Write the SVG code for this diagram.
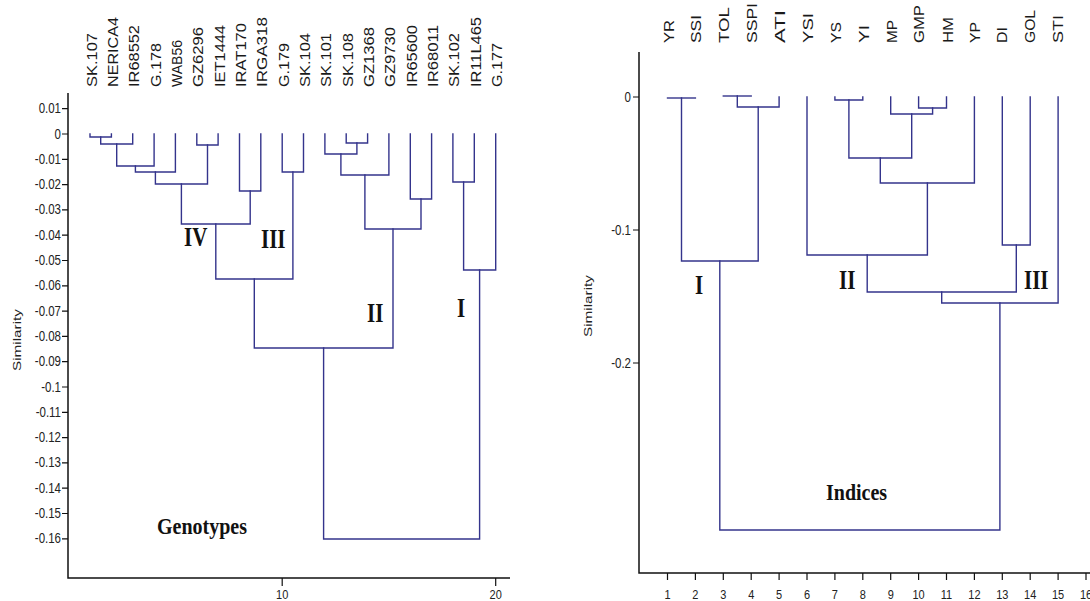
<svg xmlns="http://www.w3.org/2000/svg" width="1090" height="601" viewBox="0 0 1090 601">
<style>
.bg{fill:#fff}
.ax{stroke:#111;stroke-width:1.5;fill:none}
.tk{stroke:#111;stroke-width:1.2;fill:none}
.den{stroke:#34348c;stroke-width:1.4;fill:none;stroke-linecap:square}
.lab{font-family:"Liberation Sans",Arial,sans-serif;font-size:14px;fill:#1a1a1a}
.yl{font-family:"Liberation Sans",Arial,sans-serif;font-size:11.5px;fill:#222;text-anchor:end}
.xl{font-family:"Liberation Sans",Arial,sans-serif;font-size:11px;fill:#222;text-anchor:middle}
.sim{font-family:"Liberation Sans",Arial,sans-serif;font-size:11px;fill:#222;text-anchor:middle}
.rom{font-family:"Liberation Serif","Times New Roman",serif;font-size:21px;font-weight:bold;fill:#111}
.ttl{font-family:"Liberation Serif","Times New Roman",serif;font-size:20px;font-weight:bold;fill:#111}
</style>
<rect class="bg" x="0" y="0" width="1090" height="601"/>

<!-- LEFT CHART: axes -->
<g id="left-axes">
<path class="ax" d="M68 93 V578 H510"/>
<path class="tk" d="M62 108.7 H68 M62 134 H68 M62 159.3 H68 M62 184.6 H68 M62 209.9 H68 M62 235.2 H68 M62 260.5 H68 M62 285.8 H68 M62 311.1 H68 M62 336.4 H68 M62 361.7 H68 M62 387 H68 M62 412.3 H68 M62 437.6 H68 M62 462.9 H68 M62 488.2 H68 M62 513.5 H68 M62 538.8 H68"/>
<path class="tk" d="M282.2 578 V586 M495.7 578 V586"/>
<text class="yl" transform="translate(61,113.2) scale(1,1.25)">0.01</text>
<text class="yl" transform="translate(61,138.5) scale(1,1.25)">0</text>
<text class="yl" transform="translate(61,163.8) scale(1,1.25)">-0.01</text>
<text class="yl" transform="translate(61,189.1) scale(1,1.25)">-0.02</text>
<text class="yl" transform="translate(61,214.4) scale(1,1.25)">-0.03</text>
<text class="yl" transform="translate(61,239.7) scale(1,1.25)">-0.04</text>
<text class="yl" transform="translate(61,265) scale(1,1.25)">-0.05</text>
<text class="yl" transform="translate(61,290.3) scale(1,1.25)">-0.06</text>
<text class="yl" transform="translate(61,315.6) scale(1,1.25)">-0.07</text>
<text class="yl" transform="translate(61,340.9) scale(1,1.25)">-0.08</text>
<text class="yl" transform="translate(61,366.2) scale(1,1.25)">-0.09</text>
<text class="yl" transform="translate(61,391.5) scale(1,1.25)">-0.1</text>
<text class="yl" transform="translate(61,416.8) scale(1,1.25)">-0.11</text>
<text class="yl" transform="translate(61,442.1) scale(1,1.25)">-0.12</text>
<text class="yl" transform="translate(61,467.4) scale(1,1.25)">-0.13</text>
<text class="yl" transform="translate(61,492.7) scale(1,1.25)">-0.14</text>
<text class="yl" transform="translate(61,518) scale(1,1.25)">-0.15</text>
<text class="yl" transform="translate(61,543.3) scale(1,1.25)">-0.16</text>
<text class="xl" transform="translate(282.2,599) scale(1,1.2)">10</text>
<text class="xl" transform="translate(495.7,599) scale(1,1.2)">20</text>
<text class="sim" transform="translate(21,340) rotate(-90)" textLength="62" lengthAdjust="spacingAndGlyphs">Similarity</text>
</g>

<!-- LEFT CHART: leaf labels -->
<g id="g-SK107"><text class="lab" transform="translate(96.5,87) rotate(-90)" textLength="54" lengthAdjust="spacingAndGlyphs">SK.107</text></g>
<g id="g-NERICA4"><text class="lab" transform="translate(117.9,87) rotate(-90)" textLength="70" lengthAdjust="spacingAndGlyphs">NERICA4</text></g>
<g id="g-IR68552"><text class="lab" transform="translate(139.2,87) rotate(-90)" textLength="62" lengthAdjust="spacingAndGlyphs">IR68552</text></g>
<g id="g-G178"><text class="lab" transform="translate(160.6,87) rotate(-90)" textLength="44" lengthAdjust="spacingAndGlyphs">G.178</text></g>
<g id="g-WAB56"><text class="lab" transform="translate(181.9,87) rotate(-90)" textLength="47" lengthAdjust="spacingAndGlyphs">WAB56</text></g>
<g id="g-GZ6296"><text class="lab" transform="translate(203.3,87) rotate(-90)" textLength="60" lengthAdjust="spacingAndGlyphs">GZ6296</text></g>
<g id="g-IET1444"><text class="lab" transform="translate(224.6,87) rotate(-90)" textLength="62" lengthAdjust="spacingAndGlyphs">IET1444</text></g>
<g id="g-IRAT170"><text class="lab" transform="translate(246,87) rotate(-90)" textLength="64" lengthAdjust="spacingAndGlyphs">IRAT170</text></g>
<g id="g-IRGA318"><text class="lab" transform="translate(267.3,87) rotate(-90)" textLength="70" lengthAdjust="spacingAndGlyphs">IRGA318</text></g>
<g id="g-G179"><text class="lab" transform="translate(288.7,87) rotate(-90)" textLength="44" lengthAdjust="spacingAndGlyphs">G.179</text></g>
<g id="g-SK104"><text class="lab" transform="translate(310,87) rotate(-90)" textLength="54" lengthAdjust="spacingAndGlyphs">SK.104</text></g>
<g id="g-SK101"><text class="lab" transform="translate(331.4,87) rotate(-90)" textLength="54" lengthAdjust="spacingAndGlyphs">SK.101</text></g>
<g id="g-SK108"><text class="lab" transform="translate(352.7,87) rotate(-90)" textLength="54" lengthAdjust="spacingAndGlyphs">SK.108</text></g>
<g id="g-GZ1368"><text class="lab" transform="translate(374.1,87) rotate(-90)" textLength="60" lengthAdjust="spacingAndGlyphs">GZ1368</text></g>
<g id="g-GZ9730"><text class="lab" transform="translate(395.4,87) rotate(-90)" textLength="60" lengthAdjust="spacingAndGlyphs">GZ9730</text></g>
<g id="g-IR65600"><text class="lab" transform="translate(416.8,87) rotate(-90)" textLength="62" lengthAdjust="spacingAndGlyphs">IR65600</text></g>
<g id="g-IR68011"><text class="lab" transform="translate(438.1,87) rotate(-90)" textLength="62" lengthAdjust="spacingAndGlyphs">IR68011</text></g>
<g id="g-SK102"><text class="lab" transform="translate(459.4,87) rotate(-90)" textLength="54" lengthAdjust="spacingAndGlyphs">SK.102</text></g>
<g id="g-IR11L465"><text class="lab" transform="translate(480.8,87) rotate(-90)" textLength="70" lengthAdjust="spacingAndGlyphs">IR11L465</text></g>
<g id="g-G177"><text class="lab" transform="translate(502.2,87) rotate(-90)" textLength="44" lengthAdjust="spacingAndGlyphs">G.177</text></g>

<!-- LEFT CHART: connectors -->
<g id="left-connectors" class="den">
<path d="M90 134 V137 H111.4 V134"/>
<path d="M100.7 137 V144 H132.7 V134"/>
<path d="M116.7 144 V166 H154.1 V134"/>
<path d="M135.4 166 V172 H175.4 V134"/>
<path d="M196.8 134 V145 H218.1 V134"/>
<path d="M155.4 172 V184 H207.5 V145"/>
<path d="M239.5 134 V191 H260.8 V134"/>
<path d="M181.4 184 V224 H250.2 V191"/>
<path d="M282.2 134 V172 H303.5 V134"/>
<path d="M215.8 224 V279 H292.9 V172"/>
<path d="M346.2 134 V143 H367.6 V134"/>
<path d="M324.9 134 V154 H356.9 V143"/>
<path d="M340.9 154 V175 H388.9 V134"/>
<path d="M410.3 134 V199 H431.6 V134"/>
<path d="M364.9 175 V229 H421 V199"/>
<path d="M254.3 279 V348 H393 V229"/>
<path d="M452.9 134 V182 H474.3 V134"/>
<path d="M463.6 182 V270 H495.7 V134"/>
<path d="M323.6 348 V539 H479.6 V270"/>
</g>

<g id="left-cluster-labels">
<text class="rom" transform="translate(184,246) scale(1,1.25)">IV</text>
<text class="rom" transform="translate(261,248) scale(1,1.25)">III</text>
<text class="rom" transform="translate(367,322) scale(1,1.25)">II</text>
<text class="rom" transform="translate(457,317) scale(1,1.25)">I</text>
<text class="ttl" transform="translate(157,534) scale(1,1.2)">Genotypes</text>
</g>

<!-- RIGHT CHART: axes -->
<g id="right-axes">
<path class="ax" d="M639 52 V573 H1090"/>
<path class="tk" d="M633 97 H639 M633 230 H639 M633 363 H639"/>
<path class="tk" d="M667.5 573 V580 M695.4 573 V580 M723.3 573 V580 M751.2 573 V580 M779.1 573 V580 M807 573 V580 M834.9 573 V580 M862.8 573 V580 M890.7 573 V580 M918.6 573 V580 M946.5 573 V580 M974.4 573 V580 M1002.3 573 V580 M1030.2 573 V580 M1058.1 573 V580 M1086 573 V580"/>
<text class="yl" transform="translate(631,101.5) scale(1,1.25)">0</text>
<text class="yl" transform="translate(631,234.5) scale(1,1.25)">-0.1</text>
<text class="yl" transform="translate(631,367.5) scale(1,1.25)">-0.2</text>
<text class="xl" transform="translate(667.5,599) scale(1,1.2)">1</text>
<text class="xl" transform="translate(695.4,599) scale(1,1.2)">2</text>
<text class="xl" transform="translate(723.3,599) scale(1,1.2)">3</text>
<text class="xl" transform="translate(751.2,599) scale(1,1.2)">4</text>
<text class="xl" transform="translate(779.1,599) scale(1,1.2)">5</text>
<text class="xl" transform="translate(807,599) scale(1,1.2)">6</text>
<text class="xl" transform="translate(834.9,599) scale(1,1.2)">7</text>
<text class="xl" transform="translate(862.8,599) scale(1,1.2)">8</text>
<text class="xl" transform="translate(890.7,599) scale(1,1.2)">9</text>
<text class="xl" transform="translate(918.6,599) scale(1,1.2)">10</text>
<text class="xl" transform="translate(946.5,599) scale(1,1.2)">11</text>
<text class="xl" transform="translate(974.4,599) scale(1,1.2)">12</text>
<text class="xl" transform="translate(1002.3,599) scale(1,1.2)">13</text>
<text class="xl" transform="translate(1030.2,599) scale(1,1.2)">14</text>
<text class="xl" transform="translate(1058.1,599) scale(1,1.2)">15</text>
<text class="xl" transform="translate(1086,599) scale(1,1.2)">16</text>
<text class="sim" transform="translate(592,306) rotate(-90)" textLength="62" lengthAdjust="spacingAndGlyphs">Similarity</text>
</g>

<!-- RIGHT CHART: leaf labels -->
<g id="i-YR"><text class="lab" transform="translate(673.5,43) rotate(-90)" textLength="23" lengthAdjust="spacingAndGlyphs">YR</text></g>
<g id="i-SSI"><text class="lab" transform="translate(701.4,43) rotate(-90)" textLength="28" lengthAdjust="spacingAndGlyphs">SSI</text></g>
<g id="i-TOL"><text class="lab" transform="translate(729.3,43) rotate(-90)" textLength="36" lengthAdjust="spacingAndGlyphs">TOL</text></g>
<g id="i-SSPI"><text class="lab" transform="translate(757.2,43) rotate(-90)" textLength="40" lengthAdjust="spacingAndGlyphs">SSPI</text></g>
<g id="i-ATI"><text class="lab" transform="translate(785.1,43) rotate(-90)" textLength="33" lengthAdjust="spacingAndGlyphs">ATI</text></g>
<g id="i-YSI"><text class="lab" transform="translate(813,43) rotate(-90)" textLength="30" lengthAdjust="spacingAndGlyphs">YSI</text></g>
<g id="i-YS"><text class="lab" transform="translate(840.9,43) rotate(-90)" textLength="21" lengthAdjust="spacingAndGlyphs">YS</text></g>
<g id="i-YI"><text class="lab" transform="translate(868.8,43) rotate(-90)" textLength="18" lengthAdjust="spacingAndGlyphs">YI</text></g>
<g id="i-MP"><text class="lab" transform="translate(896.7,43) rotate(-90)" textLength="23" lengthAdjust="spacingAndGlyphs">MP</text></g>
<g id="i-GMP"><text class="lab" transform="translate(924.1,43) rotate(-90)" textLength="38" lengthAdjust="spacingAndGlyphs">GMP</text></g>
<g id="i-HM"><text class="lab" transform="translate(952.5,43) rotate(-90)" textLength="26" lengthAdjust="spacingAndGlyphs">HM</text></g>
<g id="i-YP"><text class="lab" transform="translate(980.4,43) rotate(-90)" textLength="21" lengthAdjust="spacingAndGlyphs">YP</text></g>
<g id="i-DI"><text class="lab" transform="translate(1007.3,43) rotate(-90)" textLength="16" lengthAdjust="spacingAndGlyphs">DI</text></g>
<g id="i-GOL"><text class="lab" transform="translate(1035.2,43) rotate(-90)" textLength="33" lengthAdjust="spacingAndGlyphs">GOL</text></g>
<g id="i-STI"><text class="lab" transform="translate(1063.1,43) rotate(-90)" textLength="28" lengthAdjust="spacingAndGlyphs">STI</text></g>

<!-- RIGHT CHART: connectors -->
<g id="right-connectors" class="den">
<path d="M667.5 98 H695.4"/>
<path d="M723.3 96 H751.2"/>
<path d="M737.3 96 V107 H779.1 V97"/>
<path d="M681.5 98 V261 H758.2 V107"/>
<path d="M834.9 97 V100 H862.8 V97"/>
<path d="M918.6 97 V108 H946.5 V97"/>
<path d="M890.7 97 V114 H932.6 V108"/>
<path d="M848.9 100 V158 H911.7 V114"/>
<path d="M880.3 158 V183 H974.4 V97"/>
<path d="M807 97 V255 H927.4 V183"/>
<path d="M1002.3 97 V245 H1030.2 V97"/>
<path d="M867.2 255 V292 H1016.3 V245"/>
<path d="M941.7 292 V303 H1058.1 V97"/>
<path d="M719.8 261 V530 H999.9 V303"/>
</g>

<g id="right-cluster-labels">
<text class="rom" transform="translate(695,294) scale(1,1.25)">I</text>
<text class="rom" transform="translate(839,289) scale(1,1.25)">II</text>
<text class="rom" transform="translate(1024,289) scale(1,1.25)">III</text>
<text class="ttl" transform="translate(826,500) scale(1,1.2)">Indices</text>
</g>
</svg>
